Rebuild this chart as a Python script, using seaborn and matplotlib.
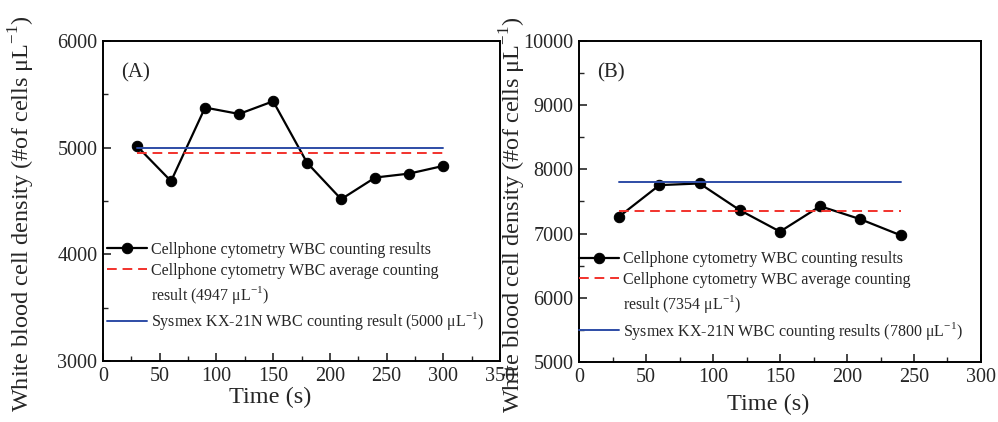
import seaborn as sns
import matplotlib.pyplot as plt
from matplotlib.ticker import MultipleLocator
import pandas as pd

sns.set_style("ticks")
plt.rcParams['font.family'] = ['Liberation Serif', 'DejaVu Serif']
plt.rcParams['mathtext.fontset'] = 'custom'
plt.rcParams['mathtext.rm'] = 'Liberation Serif'

# panel A
time_a = [30, 60, 90, 120, 150, 180, 210, 240, 270, 300]
wbc_a = [5014, 4686, 5376, 5316, 5435, 4857, 4517, 4720, 4757, 4829]
avg_a = 4947
sysmex_a = 5000

# panel B
time_b = [30, 60, 90, 120, 150, 180, 210, 240]
wbc_b = [7266, 7755, 7781, 7365, 7031, 7427, 7224, 6974]
avg_b = 7354
sysmex_b = 7800

black = "black"
red = "#f2322c"
blue = "#2d4ca6"

fig = plt.figure(figsize=(9.98, 4.22), dpi=100)
ax_a = fig.add_axes([103/998, 61/422, 397/998, 320/422])
ax_b = fig.add_axes([579/998, 60/422, 402/998, 321/422])


def panel(ax, t, y, avg, sysmex, labels, xlim, ylim, tag, legend_x, legend_y, ylab_x, xlab_x, xlab_y):
    df = pd.DataFrame({"t": t, "y": y})
    sns.lineplot(data=df, x="t", y="y", ax=ax, color=black, lw=1.6,
                 marker="o", markersize=7.5, markeredgecolor=black, label=labels[0])
    ends = [t[0], t[-1]]
    ax.plot(ends, [avg, avg], color=red, lw=1.4, ls=(0, (5, 3)), label=labels[1])
    # second line of the wrapped legend label, no handle
    ax.plot([], [], color="none", label=labels[2])
    ax.plot(ends, [sysmex, sysmex], color=blue, lw=1.4, label=labels[3])
    ax.set_xlim(*xlim)
    ax.set_ylim(*ylim)
    ax.xaxis.set_major_locator(MultipleLocator(50))
    ax.xaxis.set_minor_locator(MultipleLocator(25))
    ax.yaxis.set_major_locator(MultipleLocator(1000))
    ax.yaxis.set_minor_locator(MultipleLocator(500))
    ax.tick_params(which="major", direction="in", length=6, width=1.2, labelsize=14.5, pad=4)
    ax.tick_params(which="minor", direction="in", length=3.5, width=1.0)
    for s in ax.spines.values():
        s.set_linewidth(1.4)
        s.set_color("black")
    ax.set_xlabel("Time (s)", fontsize=17.5)
    ax.set_ylabel("White blood cell density (#of cells μL$^{-1}$)", fontsize=17.5)
    ax.yaxis.set_label_coords(ylab_x, 0.46)
    ax.xaxis.set_label_coords(xlab_x, xlab_y)
    ax.text(0.045, 0.9, tag, transform=ax.transAxes, fontsize=15, va="center")
    ax.legend(loc="upper left", bbox_to_anchor=(legend_x, legend_y), frameon=False,
              fontsize=11.5, handlelength=2.5, handletextpad=0.25, labelspacing=0.3,
              borderpad=0, borderaxespad=0)


panel(ax_a, time_a, wbc_a, avg_a, sysmex_a,
      ["Cellphone cytometry WBC counting results",
       "Cellphone cytometry WBC average counting",
       "result (4947 μL$^{-1}$)",
       "Sysmex KX-21N WBC counting result (5000 μL$^{-1}$)"],
      (0, 350), (3000, 6000), "(A)", 0.01, 0.372, -0.166, 0.42, -0.082)

panel(ax_b, time_b, wbc_b, avg_b, sysmex_b,
      ["Cellphone cytometry WBC counting results",
       "Cellphone cytometry WBC average counting",
       "result (7354 μL$^{-1}$)",
       "Sysmex KX-21N WBC counting results (7800 μL$^{-1}$)"],
      (0, 300), (5000, 10000), "(B)", 0.0, 0.345, -0.127, 0.47, -0.1)

fig.savefig("out.png", dpi=100)
